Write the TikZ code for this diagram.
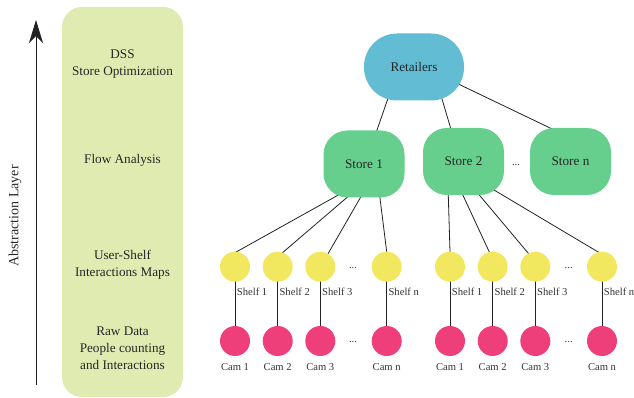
\documentclass[tikz,border=0pt]{standalone}
\usepackage{fontspec}
\setmainfont{Liberation Serif}
\usetikzlibrary{arrows.meta,backgrounds}

\definecolor{layerbg}{HTML}{E0EBB1}
\definecolor{retblue}{HTML}{62BCD4}
\definecolor{storegreen}{HTML}{66CF8D}
\definecolor{shelfyellow}{HTML}{F2E85F}
\definecolor{campink}{HTML}{EE3F7A}
\definecolor{linegray}{HTML}{222222}

\tikzset{
  bigtext/.style={font=\fontsize{13.2}{17}\selectfont, text=black!85},
  smalltext/.style={font=\fontsize{10.6}{12}\selectfont, text=black!80},
  retailer/.style={bigtext, fill=retblue, rounded corners=33pt,
    minimum width=100pt, minimum height=67pt, inner sep=0pt},
  store/.style={bigtext, fill=storegreen, rounded corners=24pt,
    minimum width=81pt, minimum height=67pt, inner sep=0pt},
  shelf/.style={circle, fill=shelfyellow, minimum size=30pt, inner sep=0pt},
  cam/.style={circle, fill=campink, minimum size=30pt, inner sep=0pt},
  camlabel/.style={label={[smalltext, inner sep=0pt, label distance=7pt]below:#1}},
  link/.style={draw=linegray, line width=0.8pt, shorten <=-2pt, shorten >=-2pt},
  shelflabel/.style={smalltext, anchor=west, inner sep=1.5pt},
  dotsmark/.style={smalltext, anchor=base},
  layertext/.style={bigtext, align=center},
}

\begin{document}
\begin{tikzpicture}[x=1pt, y=-1pt]
\useasboundingbox (0,0) rectangle (634,398);

% abstraction axis
\coordinate (axbot) at (36,385);
\coordinate (axtop) at (36,20);
\draw[linegray, line width=0.9pt, -{Stealth[length=23pt, width=14pt, inset=7pt]}] (axbot) -- (axtop);
\node[font=\fontsize{14}{17}\selectfont, text=black!85, rotate=90] (axlabel) at (15,216) {Abstraction Layer};

% layer panel
\node[fill=layerbg, rounded corners=20pt, minimum width=121pt, minimum height=390pt, inner sep=0pt] (panel) at (122.5,202) {};
\node[layertext] (ldss) at (122.5,63.8) {DSS\\Store Optimization};
\node[layertext] (lflow) at (122.5,160) {Flow Analysis};
\node[layertext] (lmaps) at (122.5,264.3) {User-Shelf\\Interactions Maps};
\node[layertext] (lraw) at (122.5,348.7) {Raw Data\\People counting\\and Interactions};

% retailers and stores
\node[retailer] (ret) at (414,67) {Retailers};
\node[store] (s1) at (364,164) {Store 1};
\node[store] (s2) at (463.5,161.5) {Store 2};
\node[store] (sn) at (570.5,161.5) {Store n};
\node[dotsmark] (sdots) at (516,165.5) {...};

% shelves
\foreach \n/\x in {a1/235, a2/277.7, a3/320.3, an/386.7, b1/450, b2/492.7, b3/535.3, bn/602}
  \node[shelf] (sh\n) at (\x,266.7) {};
\node[dotsmark] (shdotsa) at (353,268.5) {...};
\node[dotsmark] (shdotsb) at (568.7,268.5) {...};

% cameras
\foreach \n/\x/\t in {a1/235/Cam 1, a2/277.7/Cam 2, a3/320.3/Cam 3, an/386.7/Cam n,
                      b1/450/Cam 1, b2/492.7/Cam 2, b3/535.3/Cam 3, bn/602/Cam n}
  \node[cam, camlabel=\t] (cam\n) at (\x,341) {};
\node[dotsmark] (camdotsa) at (353,342.8) {...};
\node[dotsmark] (camdotsb) at (568.7,342.8) {...};

\begin{scope}[on background layer]
  % retailers to stores
  \draw[link] ([shift={(-26,31.3)}]ret.center) -- ([shift={(13,-34)}]s1.center);
  \draw[link] ([shift={(27.7,31)}]ret.center) -- ([shift={(-12.8,-33.2)}]s2.center);
  \draw[link] ([shift={(44.3,17)}]ret.center) -- ([shift={(-19.8,-33.2)}]sn.center);
  % store 1 to its shelves
  \draw[link] ([shift={(-25.7,31)}]s1.center) -- ([shift={(1.7,-15)}]sha1.center);
  \draw[link] ([shift={(-18,34.3)}]s1.center) -- ([shift={(5.6,-14.7)}]sha2.center);
  \draw[link] ([shift={(-4,34.3)}]s1.center) -- ([shift={(8.7,-14.7)}]sha3.center);
  \draw[link] ([shift={(16,34.3)}]s1.center) -- ([shift={(0,-15)}]shan.center);
  % store 2 to its shelves
  \draw[link] ([shift={(-15.2,34.5)}]s2.center) -- ([shift={(0,-15)}]shb1.center);
  \draw[link] ([shift={(-0.2,34.5)}]s2.center) -- ([shift={(-3.4,-14.7)}]shb2.center);
  \draw[link] ([shift={(15.8,33.5)}]s2.center) -- ([shift={(-7,-13.4)}]shb3.center);
  \draw[link] ([shift={(30.5,28.5)}]s2.center) -- ([shift={(-3.7,-14.6)}]shbn.center);
  % shelves to cameras
  \foreach \n/\t in {a1/Shelf 1, a2/Shelf 2, a3/Shelf 3, an/Shelf n,
                     b1/Shelf 1, b2/Shelf 2, b3/Shelf 3, bn/Shelf n}
    \draw[link] (sh\n.south) -- node[shelflabel, pos=0.23] {\t} (cam\n.north);
\end{scope}
\end{tikzpicture}
\end{document}
